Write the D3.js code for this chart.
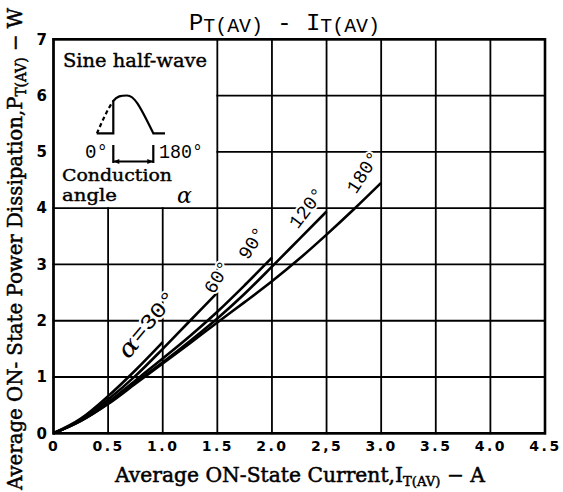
<!DOCTYPE html>
<html><head><meta charset="utf-8">
<script src="https://cdn.jsdelivr.net/npm/d3@7/dist/d3.min.js"></script>
<style>body{margin:0;background:#fff}svg{display:block}</style>
</head><body><svg id="chart" width="563" height="492"></svg>
<script>
// ---------- data ----------
const xTickValues = [0, 0.5, 1.0, 1.5, 2.0, 2.5, 3.0, 3.5, 4.0, 4.5];
const xTickLabels = ["0", "0.5", "1.0", "1.5", "2.0", "2,5", "3.0", "3.5", "4.0", "4.5"];
const yTickValues = [0, 1, 2, 3, 4, 5, 6, 7];
const yTickLabels = ["0", "1", "2", "3", "4", "5", "6", "7"];
const angleNames = ["30°", "60°", "90°", "120°", "180°"];

const current30 = [0, 0.25, 0.5, 0.75, 1.0];
const power30 = [0, 0.26, 0.66, 1.12, 1.62];
const current60 = [0, 0.25, 0.5, 0.75, 1.0, 1.25, 1.5];
const power60 = [0, 0.24, 0.6, 1.02, 1.5, 2.0, 2.5];
const current90 = [0, 0.25, 0.5, 0.75, 1.0, 1.25, 1.5, 1.75, 2.0];
const power90 = [0, 0.23, 0.55, 0.94, 1.33, 1.73, 2.16, 2.63, 3.12];
const current120 = [0, 0.25, 0.5, 0.75, 1.0, 1.25, 1.5, 1.75, 2.0, 2.25, 2.5];
const power120 = [0, 0.22, 0.53, 0.9, 1.26, 1.64, 2.04, 2.48, 2.96, 3.45, 3.94];
const current180 = [0, 0.25, 0.5, 0.75, 1.0, 1.25, 1.5, 1.75, 2.0, 2.25, 2.5, 2.75, 3.0];
const power180 = [0, 0.22, 0.52, 0.88, 1.24, 1.6, 1.97, 2.33, 2.7, 3.1, 3.53, 3.98, 4.45];

const currents = [current30, current60, current90, current120, current180];
const powers = [power30, power60, power90, power120, power180];

// ---------- presentation ----------
const labelPlacement = [
  {dx: -15, dy: -18, rot: -50},
  {dx: 1, dy: -15, rot: -60},
  {dx: -19, dy: -14, rot: -58},
  {dx: -19, dy: -3, rot: -53},
  {dx: -17, dy: -10, rot: -57}
];

const svg = d3.select("#chart");
svg.append("rect").attr("width", 563).attr("height", 492).attr("fill", "#fff");

const sx = d3.scaleLinear().domain([0, 4.5]).range([53.5, 545]);
const sy = d3.scaleLinear().domain([0, 7]).range([433.3, 39.3]);

const serif = "'DejaVu Serif', serif";
const mono = "'Liberation Mono', monospace";
const boldSans = "'DejaVu Sans', sans-serif";

// ---------- grid ----------
const grid = svg.append("g").attr("stroke", "#000").attr("stroke-width", 1.8).attr("stroke-linecap", "square");
xTickValues.forEach(v => {
  const top = (v > 0 && v < 1.5) ? 4 : 7;
  grid.append("line").attr("x1", sx(v)).attr("x2", sx(v)).attr("y1", sy(0)).attr("y2", sy(top));
});
yTickValues.forEach(v => {
  const left = (v > 4 && v < 7) ? 1.5 : 0;
  grid.append("line").attr("x1", sx(left)).attr("x2", sx(4.5)).attr("y1", sy(v)).attr("y2", sy(v));
});
svg.append("rect").attr("x", sx(0)).attr("y", sy(7)).attr("width", sx(4.5) - sx(0)).attr("height", sy(0) - sy(7))
  .attr("fill", "none").attr("stroke", "#000").attr("stroke-width", 2.6);

// ---------- curves ----------
const line = d3.line().x(d => sx(d[0])).y(d => sy(d[1])).curve(d3.curveMonotoneX);
const curvesG = svg.append("g");
currents.forEach((cur, i) => {
  const pts = cur.map((c, j) => [c, powers[i][j]]);
  curvesG.append("path").attr("d", line(pts)).attr("fill", "none")
    .attr("stroke", "#000").attr("stroke-width", 2.6).attr("stroke-linejoin", "round");
});

// curve labels
currents.forEach((cur, i) => {
  const n = cur.length - 1;
  const p = labelPlacement[i];
  const cx = sx(cur[n]) + p.dx, cy = sy(powers[i][n]) + p.dy;
  const t = svg.append("text")
    .attr("transform", `translate(${cx},${cy}) rotate(${p.rot})`)
    .attr("text-anchor", "middle").attr("dominant-baseline", "central")
    .attr("font-family", mono).attr("font-size", 19)
    .attr("stroke", "#fff").attr("stroke-width", 4).attr("paint-order", "stroke").attr("fill", "#000");
  if (i === 0) {
    t.attr("textLength", 80).attr("lengthAdjust", "spacingAndGlyphs");
    t.append("tspan").attr("font-family", serif).attr("font-style", "italic").attr("font-size", 24).text("α");
    t.append("tspan").attr("font-size", 21).text("=" + angleNames[i]);
  } else {
    t.text(angleNames[i]);
  }
});

// ---------- axes tick labels ----------
const xAxis = d3.axisBottom(sx).tickValues(xTickValues).tickSize(0).tickPadding(0)
  .tickFormat((d, i) => xTickLabels[i]);
const gx = svg.append("g").attr("transform", `translate(0,${sy(0) + 8})`).call(xAxis);
gx.select(".domain").remove();
gx.selectAll("text").attr("font-family", boldSans).attr("font-weight", "bold").attr("font-size", 14)
  .attr("letter-spacing", 2.5).attr("fill", "#000").attr("dy", "0.71em").attr("y", 0);

const yAxis = d3.axisLeft(sy).tickValues(yTickValues).tickSize(0).tickPadding(0)
  .tickFormat((d, i) => yTickLabels[i]);
const gy = svg.append("g").attr("transform", `translate(47,0)`).call(yAxis);
gy.select(".domain").remove();
gy.selectAll("text").attr("font-family", boldSans).attr("font-weight", "bold").attr("font-size", 15).attr("fill", "#000");

// ---------- axis titles ----------
const xt = svg.append("text").attr("x", 300).attr("y", 481.5).attr("text-anchor", "middle")
  .attr("font-family", serif).attr("font-size", 20).attr("fill", "#000")
  .attr("stroke", "#000").attr("stroke-width", 0.5)
  .attr("textLength", 370).attr("lengthAdjust", "spacingAndGlyphs");
xt.append("tspan").text("Average ON-State Current,I");
xt.append("tspan").attr("font-size", 13).attr("dy", 4).text("T(AV)");
xt.append("tspan").attr("dy", -4).text(" − A");

const yt = svg.append("text").attr("transform", "translate(22,249) rotate(-90)").attr("text-anchor", "middle")
  .attr("font-family", serif).attr("font-size", 20).attr("fill", "#000")
  .attr("stroke", "#000").attr("stroke-width", 0.5)
  .attr("textLength", 482).attr("lengthAdjust", "spacingAndGlyphs");
yt.append("tspan").text("Average ON- State Power Dissipation,P");
yt.append("tspan").attr("font-size", 14).attr("dy", 4).text("T(AV)");
yt.append("tspan").attr("dy", -4).text(" − W");

// ---------- title ----------
const title = svg.append("text").attr("x", 189).attr("y", 30)
  .attr("font-family", mono).attr("font-size", 24).attr("fill", "#000")
  .attr("textLength", 191).attr("lengthAdjust", "spacingAndGlyphs");
title.append("tspan").text("P");
title.append("tspan").attr("font-size", 20).attr("dy", 2).text("T(AV)");
title.append("tspan").attr("dy", -2).text(" - I");
title.append("tspan").attr("font-size", 20).attr("dy", 2).text("T(AV)");

// ---------- inset ----------
const inset = svg.append("g");
inset.append("text").attr("x", 63).attr("y", 67).attr("font-family", serif).attr("font-size", 19)
  .attr("stroke", "#000").attr("stroke-width", 0.4)
  .attr("textLength", 144).attr("lengthAdjust", "spacingAndGlyphs").text("Sine half-wave");
const wave = inset.append("g").attr("fill", "none").attr("stroke", "#000").attr("stroke-width", 2.2);
wave.append("path").attr("d", "M97,133.3 C101,124 107,110 113.3,101").attr("stroke-dasharray", "4,3");
wave.append("path").attr("d", "M96.7,133.3 H113.3 V101 C117,96 121,95.5 127,95.5 C134,95.5 139,104 153.3,133.3 H165");
wave.append("path").attr("d", "M113.3,145 V163 M153.3,145 V163 M113.3,161.5 H153.3");
inset.append("path").attr("d", "M113.3,161.5 l6,-2.5 v5 z M153.3,161.5 l-6,-2.5 v5 z").attr("fill", "#000");
inset.append("text").attr("x", 85).attr("y", 158).attr("font-family", mono).attr("font-size", 20)
  .attr("textLength", 23).attr("lengthAdjust", "spacingAndGlyphs").text("0°");
inset.append("text").attr("x", 159).attr("y", 158).attr("font-family", mono).attr("font-size", 20)
  .attr("textLength", 44).attr("lengthAdjust", "spacingAndGlyphs").text("180°");
inset.append("text").attr("x", 62).attr("y", 181).attr("font-family", serif).attr("font-size", 17)
  .attr("stroke", "#000").attr("stroke-width", 0.4)
  .attr("textLength", 110).attr("lengthAdjust", "spacingAndGlyphs").text("Conduction");
inset.append("text").attr("x", 62).attr("y", 201).attr("font-family", serif).attr("font-size", 17)
  .attr("stroke", "#000").attr("stroke-width", 0.4)
  .attr("textLength", 55).attr("lengthAdjust", "spacingAndGlyphs").text("angle");
inset.append("text").attr("x", 177).attr("y", 203).attr("font-family", serif).attr("font-style", "italic")
  .attr("font-size", 22).text("α");
</script>
</body></html>
